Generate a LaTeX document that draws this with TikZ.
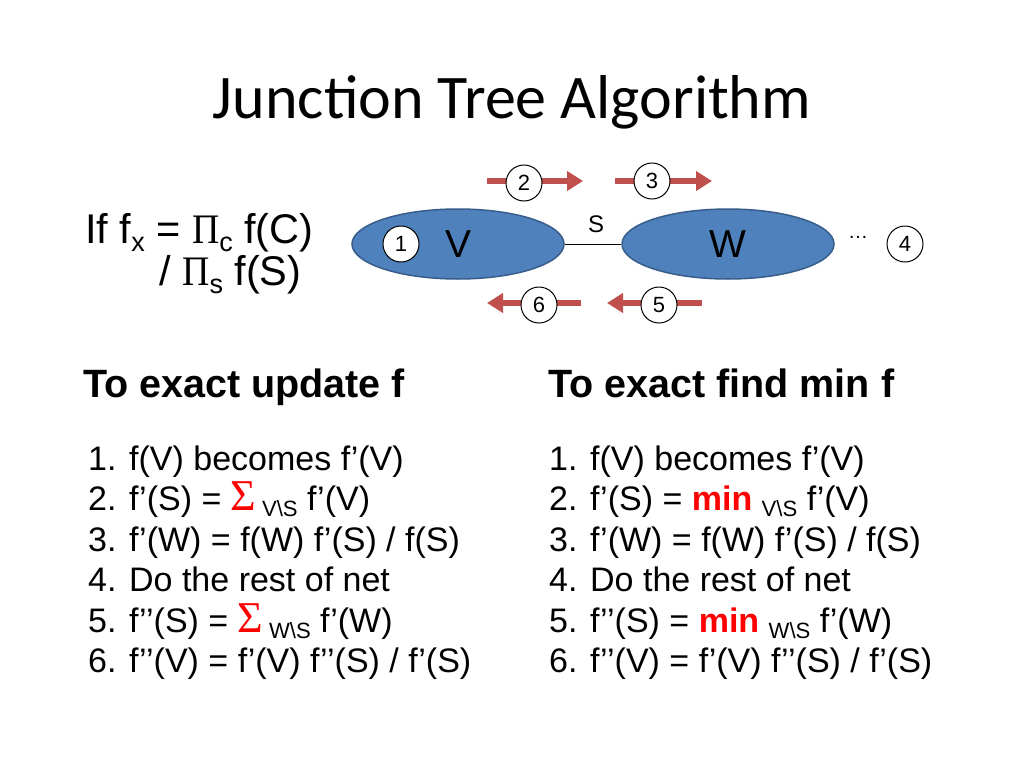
\documentclass[tikz,border=0pt]{standalone}
\usepackage{fontspec}
\setmainfont{Liberation Sans}
\newfontfamily\titlefont{Carlito}
\newfontfamily\opfont{Liberation Serif}
\usetikzlibrary{shapes.geometric,arrows.meta}
\definecolor{cliquefill}{HTML}{4F81BD}
\definecolor{cliqueline}{HTML}{385D8A}
\definecolor{msgred}{HTML}{C0504D}
\newcommand{\lowsub}[1]{\raisebox{-0.2em}{\scalebox{0.65}{#1}}}
\newcommand{\redsum}{{\color{red}\fontsize{44}{44}\selectfont\opfont Σ}}
\newcommand{\redmin}{{\color{red}\bfseries min}}
\newcommand{\bigprod}{{\opfont\fontsize{42}{42}\selectfont\scalebox{0.9}[1]{Π}}}
\tikzset{
  clique/.style={ellipse, draw=cliqueline, line width=1.5pt, fill=cliquefill,
    minimum width=212pt, minimum height=70pt, font=\fontsize{39}{39}\selectfont},
  stepnum/.style={circle, draw, fill=white, line width=1pt, minimum size=36pt,
    inner sep=0pt, font=\fontsize{22}{22}\selectfont},
  msg/.style={msgred, line width=6.5pt, -{Triangle[length=16pt,width=19pt]}},
  body/.style={anchor=base west, inner sep=0pt, font=\fontsize{34}{40}\selectfont},
  head/.style={anchor=base west, inner sep=0pt, font=\bfseries\fontsize{39.5}{46}\selectfont},
  cond/.style={anchor=base west, inner sep=0pt, font=\fontsize{41.5}{48}\selectfont},
}
\begin{document}
\begin{tikzpicture}[x=1pt,y=-1pt]
  \path[use as bounding box, fill=white] (0,0) rectangle (1024,768);
  \node[anchor=base, inner sep=0pt, font=\titlefont\fontsize{62}{70}\selectfont] (title) at (512,118) {Junction Tree Algorithm};

  \node[cond] (cond1) at (85,243) {If f\lowsub{x} = \bigprod\lowsub{c} f(C)};
  \node[cond] (cond2) at (159,285) {/ \bigprod\lowsub{s} f(S)};

  \coordinate (t2a) at (487,181);
  \coordinate (t2b) at (583,181);
  \coordinate (t3a) at (615,181);
  \coordinate (t3b) at (712,181);
  \coordinate (t6a) at (581,303);
  \coordinate (t6b) at (487,303);
  \coordinate (t5a) at (702,303);
  \coordinate (t5b) at (607,303);
  \begin{scope}[msg]
    \draw (t2a) -- (t2b);
    \draw (t3a) -- (t3b);
    \draw (t6a) -- (t6b);
    \draw (t5a) -- (t5b);
  \end{scope}

  \node[clique] (V) at (458,244) {V};
  \node[clique] (W) at (728,244) {W};
  \draw[line width=1pt] (V) -- (W);
  \node[font=\fontsize{24}{24}\selectfont] (S) at (596,224) {S};
  \node[anchor=base, inner sep=0pt, font=\fontsize{20}{20}\selectfont] (dots) at (858,238) {…};

  \node[stepnum] (n1) at (401,244) {1};
  \node[stepnum] (n2) at (524,183) {2};
  \node[stepnum] (n3) at (652,181) {3};
  \node[stepnum] (n4) at (905,244) {4};
  \node[stepnum] (n5) at (659,305) {5};
  \node[stepnum] (n6) at (539,305) {6};

  \node[head] (hupd) at (83,397) {To exact update f};
  \node[head] (hmin) at (548,397) {To exact find min f};

  \node[body] (u1) at (88,470) {1. f(V) becomes f’(V)};
  \node[body] (u2) at (88,510) {2. f’(S) = \redsum\,\lowsub{V\textbackslash S} f’(V)};
  \node[body] (u3) at (88,551) {3. f’(W) = f(W) f’(S) / f(S)};
  \node[body] (u4) at (88,591) {4. Do the rest of net};
  \node[body] (u5) at (88,632) {5. f’’(S) = \redsum\,\lowsub{W\textbackslash S} f’(W)};
  \node[body] (u6) at (88,672) {6. f’’(V) = f’(V) f’’(S) / f’(S)};

  \node[body] (m1) at (549,470) {1. f(V) becomes f’(V)};
  \node[body] (m2) at (549,510) {2. f’(S) = \redmin\ \lowsub{V\textbackslash S} f’(V)};
  \node[body] (m3) at (549,551) {3. f’(W) = f(W) f’(S) / f(S)};
  \node[body] (m4) at (549,591) {4. Do the rest of net};
  \node[body] (m5) at (549,632) {5. f’’(S) = \redmin\ \lowsub{W\textbackslash S} f’(W)};
  \node[body] (m6) at (549,672) {6. f’’(V) = f’(V) f’’(S) / f’(S)};
\end{tikzpicture}
\end{document}
